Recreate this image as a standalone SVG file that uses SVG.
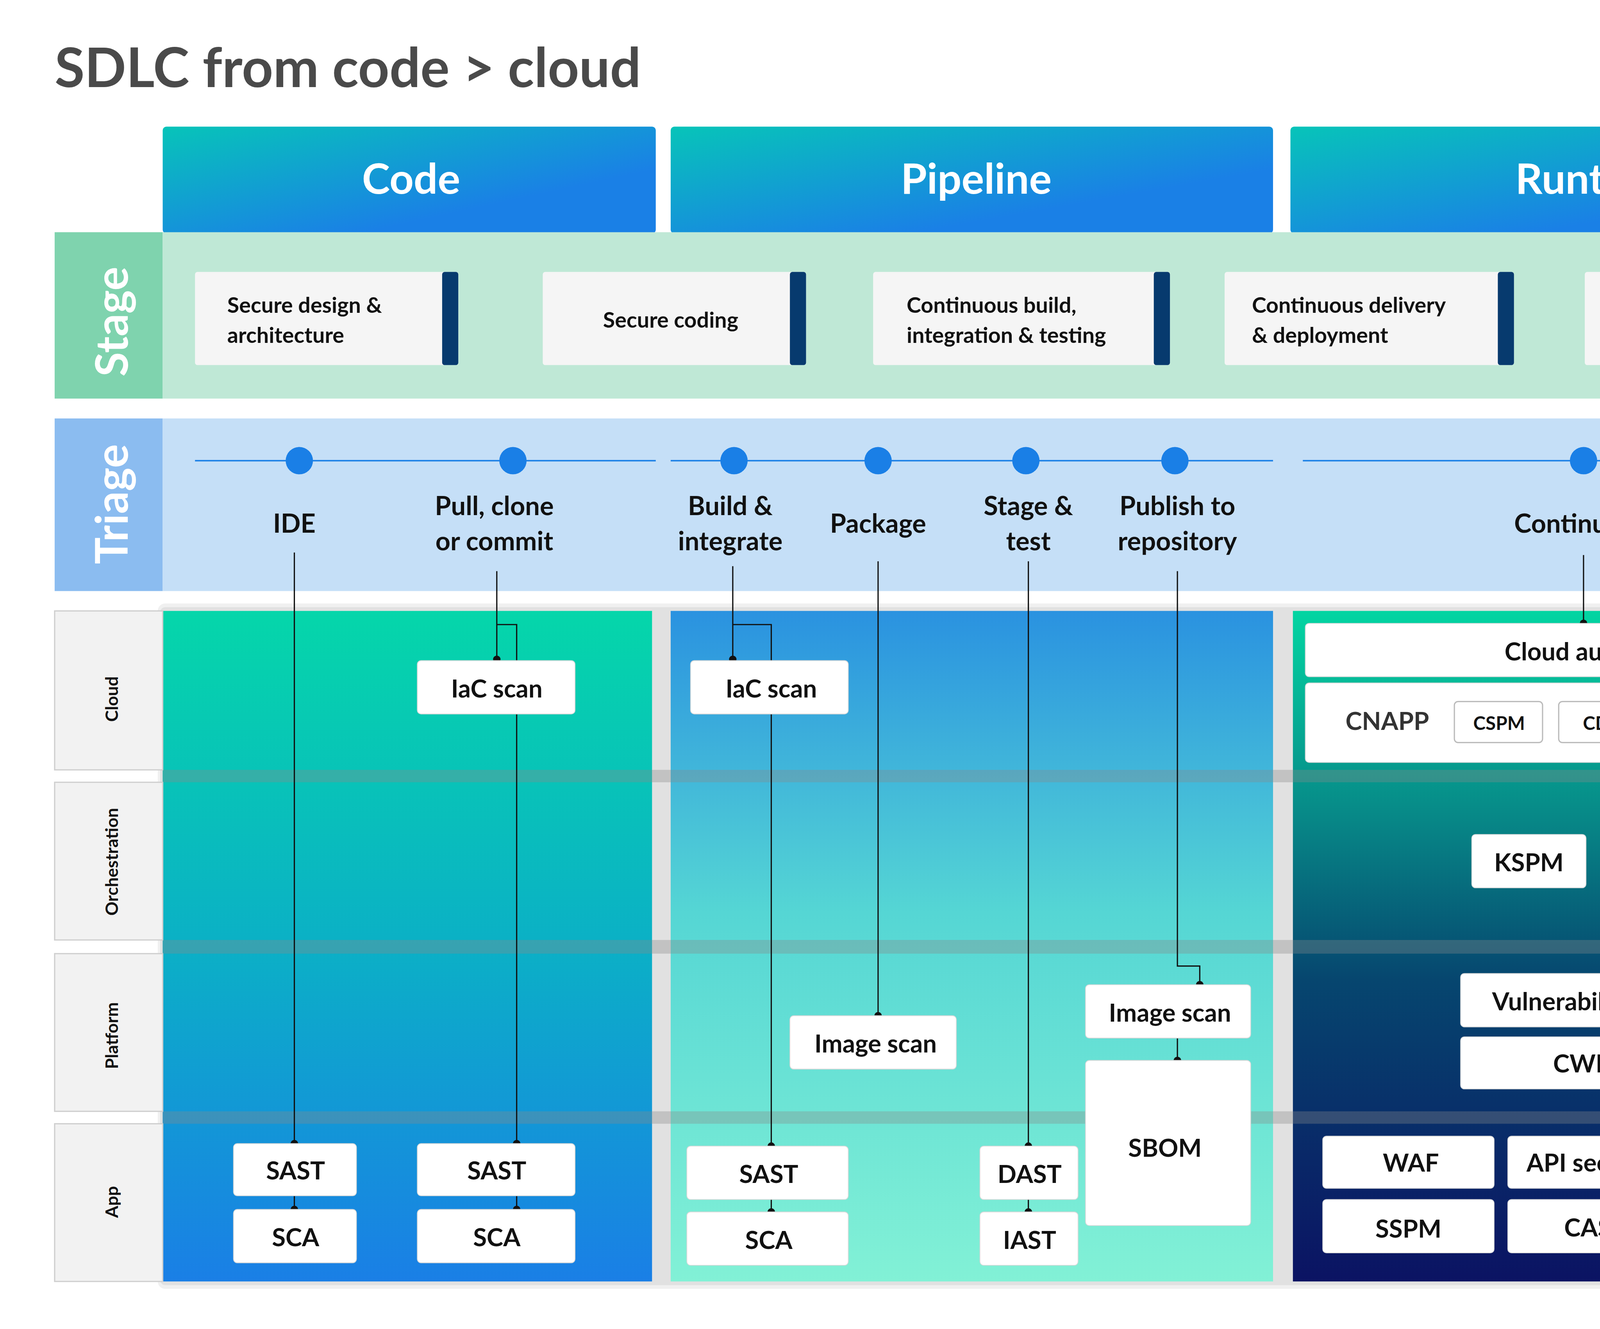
<svg xmlns="http://www.w3.org/2000/svg" width="4960" height="3403" viewBox="0 0 4960 3403">
<defs>
<linearGradient id="hdr" x1="0" y1="0" x2="1" y2="1"><stop offset="0" stop-color="#07c4b9"/><stop offset="0.7" stop-color="#1a80e6"/></linearGradient>
<linearGradient id="gCode" x1="0" y1="0" x2="0" y2="1"><stop offset="0" stop-color="#05d6aa"/><stop offset="0.5" stop-color="#0bb0c6"/><stop offset="1" stop-color="#1a7fe6"/></linearGradient>
<linearGradient id="gPipe" x1="0" y1="0" x2="0" y2="1"><stop offset="0" stop-color="#2a92e0"/><stop offset="0.45" stop-color="#55d6d4"/><stop offset="1" stop-color="#82f1d6"/></linearGradient>
<linearGradient id="gRun" x1="0" y1="0" x2="0" y2="1"><stop offset="0" stop-color="#03d5a2"/><stop offset="0.3" stop-color="#078a88"/><stop offset="0.55" stop-color="#06466f"/><stop offset="1" stop-color="#0b1363"/></linearGradient>
<style>
text{font-family:"Lato","Liberation Sans",sans-serif;font-weight:700}
.n rect{fill:#fff;stroke:#d8d8d8;stroke-width:0.6}
.n text{font-size:20px;fill:#111;text-anchor:middle;dominant-baseline:central}
.sm rect{stroke:#bbb;stroke-width:1}
.sm text{font-size:15px}
.st rect.b{fill:#f5f5f5}
.st rect.bar{fill:#073a6e}
.st text{font-size:17.5px;fill:#111}
.tl{font-size:21px;fill:#111;text-anchor:middle}
.rl{font-size:14px;fill:#111;text-anchor:middle}
.c path,.c line{stroke:#111;stroke-width:1;fill:none}
.c circle{fill:#111}
.band{fill:#8a8a8a;opacity:0.35}
.shd{fill:#000;opacity:0.06}
</style>
</defs>
<rect width="4960" height="3403" fill="#fff"/>
<svg x="0" y="0" width="4960" height="3403" viewBox="0 0 1560 1070.3">
<text x="44" y="70" font-size="44" fill="#4a4a4a">SDLC from code &gt; cloud</text>

<g id="headers">
<rect x="131" y="102" width="397" height="86" rx="3" fill="url(#hdr)"/>
<text x="331" y="156" font-size="34" fill="#fff" text-anchor="middle">Code</text>
<rect x="540" y="102" width="485" height="86" rx="3" fill="url(#hdr)"/>
<text x="786" y="156" font-size="34" fill="#fff" text-anchor="middle">Pipeline</text>
<rect x="1039" y="102" width="485" height="86" rx="3" fill="url(#hdr)"/>
<text x="1284" y="156" font-size="34" fill="#fff" text-anchor="middle">Runtime</text>
</g>

<g id="stage">
<rect x="44" y="187" width="87" height="134" fill="#7fd3ae"/>
<rect x="131" y="187" width="1393" height="134" fill="#bfe8d6"/>
<text transform="translate(103,259) rotate(-90)" font-size="36" fill="#fff" text-anchor="middle">Stage</text>
<g class="st" id="s1"><rect class="b" x="157" y="219" width="212" height="75" rx="2"/><rect class="bar" x="356" y="219" width="13" height="75" rx="2"/><text x="183" y="252">Secure design &amp;</text><text x="183" y="276">architecture</text></g>
<g class="st" id="s2"><rect class="b" x="437" y="219" width="212" height="75" rx="2"/><rect class="bar" x="636" y="219" width="13" height="75" rx="2"/><text x="540" y="264" text-anchor="middle">Secure coding</text></g>
<g class="st" id="s3"><rect class="b" x="703" y="219" width="239" height="75" rx="2"/><rect class="bar" x="929" y="219" width="13" height="75" rx="2"/><text x="730" y="252">Continuous build,</text><text x="730" y="276">integration &amp; testing</text></g>
<g class="st" id="s4"><rect class="b" x="986" y="219" width="233" height="75" rx="2"/><rect class="bar" x="1206" y="219" width="13" height="75" rx="2"/><text x="1008" y="252">Continuous delivery</text><text x="1008" y="276">&amp; deployment</text></g>
<g class="st" id="s5"><rect class="b" x="1276" y="219" width="213" height="75" rx="2"/><rect class="bar" x="1476" y="219" width="13" height="75" rx="2"/><text x="1300" y="252">Runtime defense</text><text x="1300" y="276">&amp; monitoring</text></g>
</g>

<g id="triage">
<rect x="44" y="337" width="87" height="139" fill="#8bbcf0"/>
<rect x="131" y="337" width="1393" height="139" fill="#c5dff7"/>
<text transform="translate(103,406) rotate(-90)" font-size="36" fill="#fff" text-anchor="middle">Triage</text>
<g stroke="#1a7fe6" stroke-width="1.2"><line x1="157" y1="371" x2="528" y2="371"/><line x1="540" y1="371" x2="1025" y2="371"/><line x1="1049" y1="371" x2="1505" y2="371"/></g>
<g fill="#1a7fe6"><circle cx="241" cy="371" r="11"/><circle cx="413" cy="371" r="11"/><circle cx="591" cy="371" r="11"/><circle cx="707" cy="371" r="11"/><circle cx="826" cy="371" r="11"/><circle cx="946" cy="371" r="11"/><circle cx="1275" cy="371" r="11"/></g>
<text class="tl" x="237" y="429">IDE</text>
<text class="tl" x="398" y="415">Pull, clone</text><text class="tl" x="398" y="443">or commit</text>
<text class="tl" x="588" y="415">Build &amp;</text><text class="tl" x="588" y="443">integrate</text>
<text class="tl" x="707" y="429">Package</text>
<text class="tl" x="828" y="415">Stage &amp;</text><text class="tl" x="828" y="443">test</text>
<text class="tl" x="948" y="415">Publish to</text><text class="tl" x="948" y="443">repository</text>
<text class="tl" x="1273" y="429">Continuous</text>
</g>

<g id="lanes">
<rect class="shd" x="127" y="486" width="1402" height="552" rx="6"/>
<rect class="shd" x="129" y="489" width="1398" height="546" rx="4"/>
<rect x="131" y="492" width="394" height="540" fill="url(#gCode)"/>
<rect x="540" y="492" width="485" height="540" fill="url(#gPipe)"/>
<rect x="1041" y="492" width="483" height="540" fill="url(#gRun)"/>
<g fill="#f2f2f2" stroke="#cfcfcf" stroke-width="1">
<rect x="44" y="492" width="87" height="128"/><rect x="44" y="630" width="87" height="127"/><rect x="44" y="768" width="87" height="127"/><rect x="44" y="905" width="87" height="127"/></g>
<text class="rl" transform="translate(95,563) rotate(-90)">Cloud</text>
<text class="rl" transform="translate(95,694) rotate(-90)">Orchestration</text>
<text class="rl" transform="translate(95,834) rotate(-90)">Platform</text>
<text class="rl" transform="translate(95,968) rotate(-90)">App</text>
<rect class="band" x="131" y="620" width="1393" height="10"/>
<rect class="band" x="131" y="757" width="1393" height="11"/>
<rect class="band" x="131" y="895" width="1393" height="10"/>
</g>

<g id="connectors" class="c">
<line x1="237" y1="445" x2="237" y2="921"/><circle cx="237" cy="921" r="3"/>
<line x1="237" y1="963" x2="237" y2="974"/><circle cx="237" cy="974" r="3"/>
<path d="M400 460V531M400 503H416V532"/><circle cx="400" cy="531" r="3"/>
<line x1="416" y1="575" x2="416" y2="921"/><circle cx="416" cy="921" r="3"/>
<line x1="416" y1="963" x2="416" y2="974"/><circle cx="416" cy="974" r="3"/>
<path d="M590 456V531M590 503H621V532"/><circle cx="590" cy="531" r="3"/>
<line x1="621" y1="575" x2="621" y2="923"/><circle cx="621" cy="923" r="3"/>
<line x1="621" y1="966" x2="621" y2="976"/><circle cx="621" cy="976" r="3"/>
<line x1="707" y1="452" x2="707" y2="818"/><circle cx="707" cy="818" r="3"/>
<line x1="828" y1="452" x2="828" y2="923"/><circle cx="828" cy="923" r="3"/>
<line x1="828" y1="966" x2="828" y2="976"/><circle cx="828" cy="976" r="3"/>
<path d="M948 460V778H966V793"/><circle cx="966" cy="793" r="3"/>
<line x1="948" y1="836" x2="948" y2="854"/><circle cx="948" cy="854" r="3"/>
<line x1="1275" y1="447" x2="1275" y2="502"/><circle cx="1275" cy="502" r="3"/>
</g>

<g id="nodes">
<g class="n" id="iac1"><rect x="336" y="532" width="127" height="43" rx="3"/><text x="400" y="554">IaC scan</text></g>
<g class="n" id="sast1"><rect x="188" y="921" width="99" height="42" rx="3"/><text x="238" y="942">SAST</text></g>
<g class="n" id="sca1"><rect x="188" y="974" width="99" height="43" rx="3"/><text x="238" y="996">SCA</text></g>
<g class="n" id="sast2"><rect x="336" y="921" width="127" height="42" rx="3"/><text x="400" y="942">SAST</text></g>
<g class="n" id="sca2"><rect x="336" y="974" width="127" height="43" rx="3"/><text x="400" y="996">SCA</text></g>
<g class="n" id="iac2"><rect x="556" y="532" width="127" height="43" rx="3"/><text x="621" y="554">IaC scan</text></g>
<g class="n" id="img1"><rect x="636" y="818" width="134" height="43" rx="3"/><text x="705" y="840">Image scan</text></g>
<g class="n" id="img2"><rect x="874" y="793" width="133" height="43" rx="3"/><text x="942" y="815">Image scan</text></g>
<g class="n" id="sbom"><rect x="874" y="854" width="133" height="133" rx="3"/><text x="938" y="924">SBOM</text></g>
<g class="n" id="sast3"><rect x="553" y="923" width="130" height="43" rx="3"/><text x="619" y="945">SAST</text></g>
<g class="n" id="sca3"><rect x="553" y="976" width="130" height="43" rx="3"/><text x="619" y="998">SCA</text></g>
<g class="n" id="dast"><rect x="789" y="923" width="79" height="43" rx="3"/><text x="829" y="945">DAST</text></g>
<g class="n" id="iast"><rect x="789" y="976" width="79" height="43" rx="3"/><text x="829" y="998">IAST</text></g>
<g class="n" id="audit"><rect x="1051" y="502" width="463" height="43" rx="3"/><text x="1283" y="524">Cloud audit logs</text></g>
<g class="n" id="cnapp"><rect x="1051" y="550" width="463" height="64" rx="3"/><text x="1117" y="580" style="fill:#333">CNAPP</text></g>
<g class="n sm" id="cspm"><rect x="1171" y="565" width="71" height="33" rx="3"/><text x="1207" y="582">CSPM</text></g>
<g class="n sm" id="cdr"><rect x="1255" y="565" width="69" height="33" rx="3"/><text x="1290" y="582">CDR</text></g>
<g class="n sm" id="ciem"><rect x="1339" y="565" width="70" height="33" rx="3"/><text x="1373" y="582">CIEM</text></g>
<g class="n sm" id="dspm"><rect x="1424" y="565" width="67" height="33" rx="3"/><text x="1461" y="582">DSPM</text></g>
<g class="n" id="kspm"><rect x="1185" y="672" width="92" height="43" rx="3"/><text x="1231" y="694">KSPM</text></g>
<g class="n" id="kdr"><rect x="1291" y="672" width="91" height="43" rx="3"/><text x="1339" y="694">KDR</text></g>
<g class="n" id="vuln"><rect x="1176" y="784" width="207" height="43" rx="3"/><text x="1280" y="806">Vulnerability scan</text></g>
<g class="n" id="cwpp"><rect x="1176" y="835" width="207" height="42" rx="3"/><text x="1280" y="856">CWPP</text></g>
<g class="n" id="waf"><rect x="1065" y="915" width="138" height="42" rx="3"/><text x="1136" y="936">WAF</text></g>
<g class="n" id="api"><rect x="1214" y="915" width="139" height="42" rx="3"/><text x="1283" y="936">API security</text></g>
<g class="n" id="rasp"><rect x="1364" y="915" width="139" height="42" rx="3"/><text x="1431" y="936">RASP/ADR</text></g>
<g class="n" id="sspm"><rect x="1065" y="966" width="138" height="43" rx="3"/><text x="1134" y="989">SSPM</text></g>
<g class="n" id="casb"><rect x="1214" y="966" width="139" height="43" rx="3"/><text x="1285" y="988">CASB</text></g>
<g class="n" id="dlp"><rect x="1364" y="966" width="139" height="43" rx="3"/><text x="1434" y="988">DLP</text></g>
</g>
</svg>
</svg>
